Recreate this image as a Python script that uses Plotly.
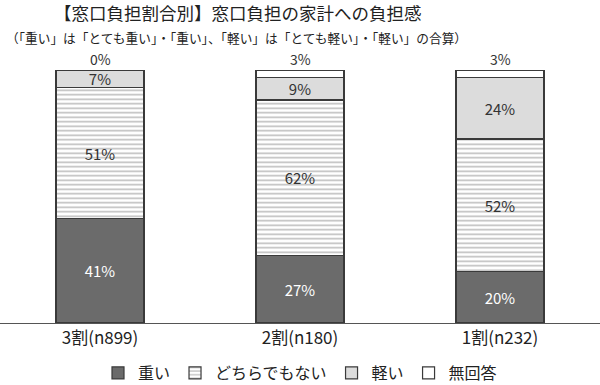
import plotly.graph_objects as go

categories = ["3割(n899)", "2割(n180)", "1割(n232)"]
series_names = ["重い", "どちらでもない", "軽い", "無回答"]
heavy = [41, 27, 20]
neutral = [51, 62, 52]
light = [7, 9, 24]
no_answer = [0, 3, 3]

title = "【窓口負担割合別】窓口負担の家計への負担感"
subtitle = "（「重い」は「とても重い」・「重い」、「軽い」は「とても軽い」・「軽い」の合算）"

FONT = "Noto Sans CJK JP, Noto Sans, sans-serif"
EDGE = "#3a3a3a"
TOP, BASE = 70, 323
PH = BASE - TOP

fig = go.Figure()

fig.add_bar(
    x=categories, y=heavy, name=series_names[0],
    marker=dict(color="#6b6b6b", line=dict(color=EDGE, width=1.2)),
    text=[f"{v}%" for v in heavy], textposition="inside", insidetextanchor="middle",
    constraintext="none", textangle=0,
    textfont=dict(color="white", size=15, family=FONT),
)
fig.add_bar(
    x=categories, y=neutral, name=series_names[1],
    marker=dict(color="white", line=dict(color=EDGE, width=1.2),
                pattern=dict(shape="-", fgcolor="#7a7a7a", bgcolor="white", size=4.5, solidity=0.35)),
    text=[f"{v}%" for v in neutral], textposition="inside", insidetextanchor="middle",
    constraintext="none", textangle=0,
    textfont=dict(color="#333333", size=15, family=FONT),
)
fig.add_bar(
    x=categories, y=light, name=series_names[2],
    marker=dict(color="#dcdcdc", line=dict(color=EDGE, width=1.2)),
    text=[f"{v}%" for v in light], textposition="inside", insidetextanchor="middle",
    constraintext="none", textangle=0,
    textfont=dict(color="#333333", size=15, family=FONT),
)
fig.add_bar(
    x=categories, y=no_answer, name=series_names[3],
    marker=dict(color="white", line=dict(color=EDGE, width=1.2)),
    textposition="none",
)

for c, v in zip(categories, no_answer):
    fig.add_annotation(x=c, y=100, yref="y", text=f"{v}%", showarrow=False,
                       yanchor="bottom", yshift=-1,
                       font=dict(size=14, color="#333333", family=FONT))

fig.add_annotation(xref="paper", yref="paper", x=52/600, xanchor="left",
                   y=(BASE - 12) / PH, yanchor="middle", showarrow=False, text=title,
                   font=dict(size=17.5, color="#222222", family=FONT))
fig.add_annotation(xref="paper", yref="paper", x=4/600, xanchor="left",
                   y=(BASE - 37) / PH, yanchor="middle", showarrow=False, text=subtitle,
                   font=dict(size=12.7, color="#222222", family=FONT))

fig.update_layout(
    barmode="stack", barnorm="percent", bargap=0.56,
    width=600, height=385,
    margin=dict(l=0, r=0, t=TOP, b=385 - BASE, autoexpand=False),
    plot_bgcolor="white", paper_bgcolor="white",
    font=dict(family=FONT, size=15, color="#222222"),
    xaxis=dict(showgrid=False, showline=True, linecolor="#555555", linewidth=1,
               ticks="", tickfont=dict(size=17, color="#222222"), range=[-0.5, 2.5],
               automargin=False),
    yaxis=dict(visible=False, range=[0, 100], automargin=False),
    showlegend=True,
    legend=dict(orientation="h", x=0.5, xanchor="center", y=(BASE - 373) / PH, yanchor="middle",
                font=dict(size=16, color="#222222"), traceorder="normal",
                itemwidth=30, bgcolor="rgba(0,0,0,0)"),
)

fig.write_html("out.html", config={"displayModeBar": False},
               post_script="document.body.style.margin='0';")
